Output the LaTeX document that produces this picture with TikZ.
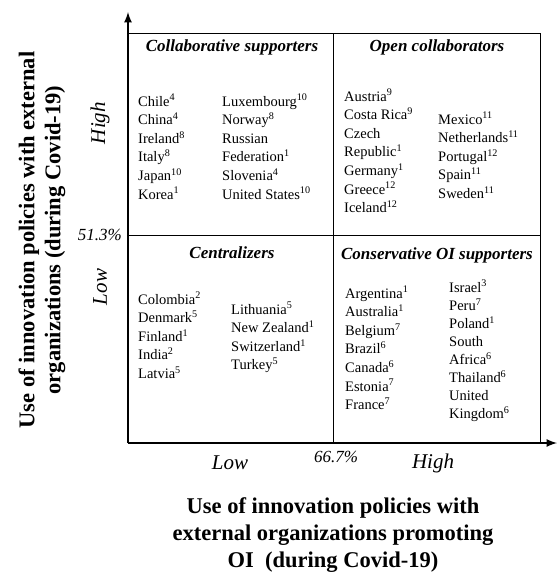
\documentclass[tikz,border=0pt]{standalone}
\usepackage{fontspec}
\setmainfont{Liberation Serif}
\tikzset{
	axisline/.style={line width=2.5pt, -latex},          %osie z grotami
	gridline/.style={line width=1pt},                    %linie kwadrantow
	quadtitle/.style={font=\fontsize{17}{20}\selectfont\bfseries\itshape, inner sep=0pt},
	country/.style={font=\fontsize{14.5}{18.6}\selectfont, align=left, anchor=north west, inner sep=0pt},
	level/.style={font=\fontsize{21}{24}\selectfont\itshape, inner sep=0pt},
	cut/.style={font=\fontsize{17}{20}\selectfont\itshape, inner sep=0pt},
	axistitle/.style={font=\fontsize{22.5}{27}\selectfont\bfseries, align=center, inner sep=0pt},
}

\begin{document}
\begin{tikzpicture}[x=1pt, y=-1pt]
	\useasboundingbox (0,0) rectangle (557,576);
	% narozniki i podzialy
	\coordinate (bl) at (128,443);
	\coordinate (tl) at (128,33);
	\coordinate (tr) at (540,33);
	\coordinate (br) at (540,443);
	\coordinate (mt) at (333,33);
	\coordinate (mb) at (333,443);
	\coordinate (ml) at (128,235);
	\coordinate (mr) at (540,235);
	\coordinate (ytip) at (128,12);
	\coordinate (xtip) at (557,443);

	\draw[gridline] (tl) -- (tr) -- (br);
	\draw[gridline] (mt) -- (mb);
	\draw[gridline] (ml) -- (mr);
	\draw[axisline] (bl) -- (ytip);
	\draw[axisline] (bl) -- (xtip);

	% tytuly kwadrantow
	\node[quadtitle] (collab) at (232,47) {Collaborative supporters};
	\node[quadtitle] (open) at (437,47) {Open collaborators};
	\node[quadtitle] (central) at (232,253) {Centralizers};
	\node[quadtitle] (conserv) at (437,255) {Conservative OI supporters};

	% kraje
	\node[country] (collabA) at (138,94) {Chile\textsuperscript{4}\\China\textsuperscript{4}\\Ireland\textsuperscript{8}\\Italy\textsuperscript{8}\\Japan\textsuperscript{10}\\Korea\textsuperscript{1}};
	\node[country] (collabB) at (222,94) {Luxembourg\textsuperscript{10}\\Norway\textsuperscript{8}\\Russian\\Federation\textsuperscript{1}\\Slovenia\textsuperscript{4}\\United States\textsuperscript{10}};
	\node[country] (openA) at (344,89) {Austria\textsuperscript{9}\\Costa Rica\textsuperscript{9}\\Czech\\Republic\textsuperscript{1}\\Germany\textsuperscript{1}\\Greece\textsuperscript{12}\\Iceland\textsuperscript{12}};
	\node[country] (openB) at (438,112) {Mexico\textsuperscript{11}\\Netherlands\textsuperscript{11}\\Portugal\textsuperscript{12}\\Spain\textsuperscript{11}\\Sweden\textsuperscript{11}};
	\node[country] (centralA) at (138,292) {Colombia\textsuperscript{2}\\Denmark\textsuperscript{5}\\Finland\textsuperscript{1}\\India\textsuperscript{2}\\Latvia\textsuperscript{5}};
	\node[country] (centralB) at (231,302) {Lithuania\textsuperscript{5}\\New Zealand\textsuperscript{1}\\Switzerland\textsuperscript{1}\\Turkey\textsuperscript{5}};
	\node[country] (conservA) at (345,286) {Argentina\textsuperscript{1}\\Australia\textsuperscript{1}\\Belgium\textsuperscript{7}\\Brazil\textsuperscript{6}\\Canada\textsuperscript{6}\\Estonia\textsuperscript{7}\\France\textsuperscript{7}};
	\node[country, font=\fontsize{14.5}{18.1}\selectfont] (conservB) at (449,280) {Israel\textsuperscript{3}\\Peru\textsuperscript{7}\\Poland\textsuperscript{1}\\South\\Africa\textsuperscript{6}\\Thailand\textsuperscript{6}\\United\\Kingdom\textsuperscript{6}};

	% poziomy na osiach
	\node[level, rotate=90] (yhigh) at (100,123) {High};
	\node[level, rotate=90] (ylow) at (100,287) {Low};
	\node[cut, anchor=east] (ycut) at (122,235) {51.3\%};
	\node[level] (xlow) at (230,463) {Low};
	\node[cut] (xcut) at (336,457) {66.7\%};
	\node[level] (xhigh) at (433,463) {High};

	% tytuly osi
	\node[axistitle, rotate=90, font=\fontsize{22.5}{26}\selectfont\bfseries] (ytitle) at (42,240) {Use of innovation policies with external\\organizations (during Covid-19)};
	\node[axistitle, anchor=north] (xtitle) at (333,497) {Use of innovation policies with\\external organizations promoting\\OI\ \ (during Covid-19)};
\end{tikzpicture}
\end{document}
